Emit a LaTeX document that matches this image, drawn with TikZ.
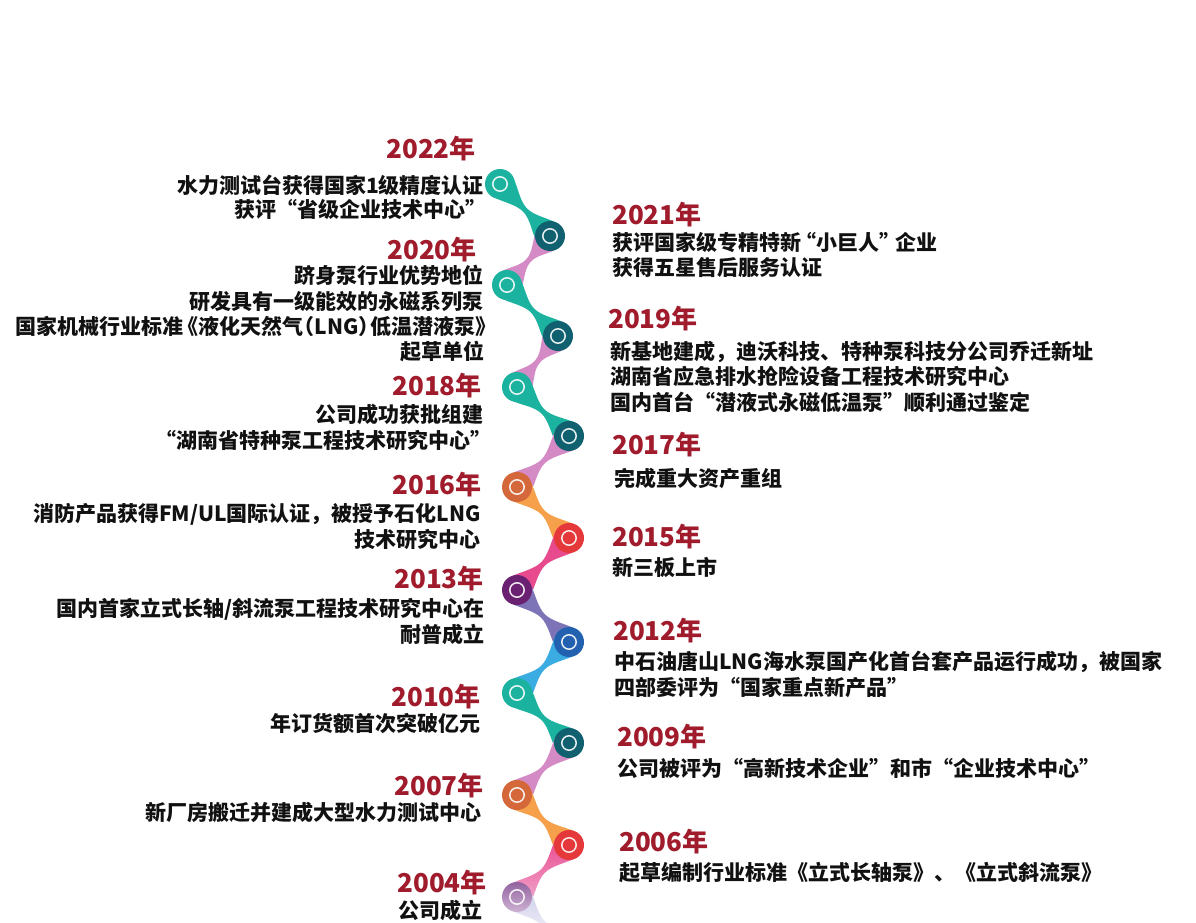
\documentclass[tikz,border=0pt]{standalone}
\usepackage{fontspec}
\setmainfont{Noto Sans CJK SC}
\usetikzlibrary{calc}
\definecolor{yearred}{HTML}{A01B2B}
\definecolor{tealc}{HTML}{1BB39F}
\definecolor{dteal}{HTML}{10606F}
\definecolor{pinkc}{HTML}{D48AC4}
\definecolor{orangec}{HTML}{D4683A}
\definecolor{orangel}{HTML}{F6A04B}
\definecolor{redc}{HTML}{E5383A}
\definecolor{magc}{HTML}{E84A8E}
\definecolor{purplec}{HTML}{6B2171}
\definecolor{violetc}{HTML}{7C74B7}
\definecolor{bluec}{HTML}{2261B0}
\definecolor{lbluec}{HTML}{3AACE2}
\definecolor{lavtop}{HTML}{9263A0}
\definecolor{lavbot}{HTML}{CDB2D3}
\definecolor{magfade}{HTML}{F2A9CE}
\definecolor{tailc}{HTML}{CFCFEA}
\definecolor{txtc}{HTML}{111111}
\newcommand\joint[3]{%
\path[#3]
 ($(#1)!5pt!(#2)!13.8pt!90:(#2)$)
 .. controls ($(#1)!16pt!(#2)!10pt!90:(#2)$) and ($(#1)!0.5!(#2)!-10pt!(#2)!2.5pt!90:(#2)$)
 .. ($(#1)!0.5!(#2)!2.5pt!90:(#2)$)
 .. controls ($(#1)!0.5!(#2)!10pt!(#2)!2.5pt!90:(#2)$) and ($(#2)!16pt!(#1)!10pt!-90:(#1)$)
 .. ($(#2)!5pt!(#1)!13.8pt!-90:(#1)$)
 -- ($(#2)!5pt!(#1)!13.8pt!90:(#1)$)
 .. controls ($(#2)!16pt!(#1)!10pt!90:(#1)$) and ($(#1)!0.5!(#2)!10pt!(#2)!2.5pt!-90:(#2)$)
 .. ($(#1)!0.5!(#2)!2.5pt!-90:(#2)$)
 .. controls ($(#1)!0.5!(#2)!-10pt!(#2)!2.5pt!-90:(#2)$) and ($(#1)!16pt!(#2)!10pt!-90:(#2)$)
 .. ($(#1)!5pt!(#2)!13.8pt!-90:(#2)$) -- cycle;}
\newcommand\tlcirc[3]{%
\node[dotnode, #3] (#1) at (#2) {};
\draw[ringline] (#2) circle[radius=7.2];}
\tikzset{
 yr/.style={font=\bfseries\fontsize{26}{30}\selectfont, text=yearred, inner sep=0},
 txt/.style={font=\bfseries\fontsize{21}{25}\selectfont, text=txtc, inner sep=0},
 dotnode/.style={circle, minimum size=30pt, inner sep=0},
 ringline/.style={draw=white, line width=1.5pt, opacity=0.9}
}
\begin{document}
\begin{tikzpicture}[x=1pt,y=-1pt]
\fill[white] (0,0) rectangle (1196,923);
\useasboundingbox (0,0) rectangle (1196,923);
\clip (0,0) rectangle (1196,923);
% spine positions
\coordinate (c22) at (500,184);
\coordinate (c21) at (550,236);
\coordinate (c20) at (507,285);
\coordinate (c19) at (558,336);
\coordinate (c18) at (517,387);
\coordinate (c17) at (569,436);
\coordinate (c16) at (517,487);
\coordinate (c15) at (569,538);
\coordinate (c13) at (517,590);
\coordinate (c12) at (569,642);
\coordinate (c10) at (517,693);
\coordinate (c09) at (569,743);
\coordinate (c07) at (517,795);
\coordinate (c06) at (569,845);
\coordinate (c04) at (517,897);
\coordinate (tailend) at (569,949);
% connectors
\joint{c22}{c21}{fill=tealc}
\joint{c21}{c20}{fill=pinkc}
\joint{c20}{c19}{fill=tealc}
\joint{c19}{c18}{fill=pinkc}
\joint{c18}{c17}{fill=tealc}
\joint{c17}{c16}{fill=pinkc}
\joint{c16}{c15}{fill=orangel}
\joint{c15}{c13}{fill=magc}
\joint{c13}{c12}{fill=violetc}
\joint{c12}{c10}{fill=lbluec}
\joint{c10}{c09}{fill=tealc}
\joint{c09}{c07}{fill=pinkc}
\joint{c07}{c06}{fill=orangel}
\joint{c06}{c04}{top color=magc, bottom color=magfade}
\joint{c04}{tailend}{top color=tailc, bottom color=white}
% circles
\tlcirc{n22}{c22}{fill=tealc}
\tlcirc{n21}{c21}{fill=dteal}
\tlcirc{n20}{c20}{fill=tealc}
\tlcirc{n19}{c19}{fill=dteal}
\tlcirc{n18}{c18}{fill=tealc}
\tlcirc{n17}{c17}{fill=dteal}
\tlcirc{n16}{c16}{fill=orangec}
\tlcirc{n15}{c15}{fill=redc}
\tlcirc{n13}{c13}{fill=purplec}
\tlcirc{n12}{c12}{fill=bluec}
\tlcirc{n10}{c10}{fill=tealc}
\tlcirc{n09}{c09}{fill=dteal}
\tlcirc{n07}{c07}{fill=orangec}
\tlcirc{n06}{c06}{fill=redc}
\tlcirc{n04}{c04}{top color=lavtop, bottom color=lavbot}
% left column
\node[yr, anchor=base east] (y22) at (476,158.5) {2022年};
\node[txt, anchor=base east] (t22a) at (484,193) {水力测试台获得国家1级精度认证};
\node[txt, anchor=base east] (t22b) at (487,217) {获评“省级企业技术中心”};
\node[yr, anchor=base east] (y20) at (477,259.5) {2020年};
\node[txt, anchor=base east] (t20a) at (484,283) {跻身泵行业优势地位};
\node[txt, anchor=base east] (t20b) at (484,309) {研发具有一级能效的永磁系列泵};
\node[txt, anchor=base east] (t20c) at (490,334) {国家机械行业标准\kern-0.3em《液化天然气\kern-0.45em（LNG）\kern-0.45em低温潜液泵》\kern-0.3em};
\node[txt, anchor=base east] (t20d) at (485,359) {起草单位};
\node[yr, anchor=base east] (y18) at (482,395.5) {2018年};
\node[txt, anchor=base east] (t18a) at (484,422) {公司成功获批组建};
\node[txt, anchor=base east] (t18b) at (492,448) {“湖南省特种泵工程技术研究中心”};
\node[yr, anchor=base east] (y16) at (482,494.5) {2016年};
\node[txt, anchor=base east] (t16a) at (481,521) {消防产品获得FM/UL国际认证，被授予石化LNG};
\node[txt, anchor=base east] (t16b) at (481,547) {技术研究中心};
\node[yr, anchor=base east] (y13) at (484,588.5) {2013年};
\node[txt, anchor=base east] (t13a) at (485,616) {国内首家立式长轴/斜流泵工程技术研究中心在};
\node[txt, anchor=base east] (t13b) at (485,642) {耐普成立};
\node[yr, anchor=base east] (y10) at (481,706.5) {2010年};
\node[txt, anchor=base east] (t10a) at (481,731) {年订货额首次突破亿元};
\node[yr, anchor=base east] (y07) at (484,795.5) {2007年};
\node[txt, anchor=base east] (t07a) at (482,820) {新厂房搬迁并建成大型水力测试中心};
\node[yr, anchor=base east] (y04) at (487,892.5) {2004年};
\node[txt, anchor=base east] (t04a) at (483,918) {公司成立};
% right column
\node[yr, anchor=base west] (y21) at (612,224.5) {2021年};
\node[txt, anchor=base west] (t21a) at (612,250) {获评国家级专精特新\kern-0.25em“小巨人”\kern-0.25em企业};
\node[txt, anchor=base west] (t21b) at (612,275) {获得五星售后服务认证};
\node[yr, anchor=base west] (y19) at (608,328.5) {2019年};
\node[txt, anchor=base west] (t19a) at (610,359) {新基地建成，迪沃科技、特种泵科技分公司乔迁新址};
\node[txt, anchor=base west] (t19b) at (610,384) {湖南省应急排水抢险设备工程技术研究中心};
\node[txt, anchor=base west] (t19c) at (610,410) {国内首台“潜液式永磁低温泵”顺利通过鉴定};
\node[yr, anchor=base west] (y17) at (612,454.5) {2017年};
\node[txt, anchor=base west] (t17a) at (614,486) {完成重大资产重组};
\node[yr, anchor=base west] (y15) at (612,546.5) {2015年};
\node[txt, anchor=base west] (t15a) at (612,575) {新三板上市};
\node[yr, anchor=base west] (y12) at (613,640.5) {2012年};
\node[txt, anchor=base west] (t12a) at (614,669) {中石油唐山LNG海水泵国产化首台套产品运行成功，被国家};
\node[txt, anchor=base west] (t12b) at (614,695) {四部委评为“国家重点新产品”};
\node[yr, anchor=base west] (y09) at (617,746.5) {2009年};
\node[txt, anchor=base west] (t09a) at (617,776) {公司被评为“高新技术企业”和市“企业技术中心”};
\node[yr, anchor=base west] (y06) at (619,851.5) {2006年};
\node[txt, anchor=base west] (t06a) at (619,880) {起草编制行业标准《立式长轴泵》、《立式斜流泵》};
\end{tikzpicture}
\end{document}
